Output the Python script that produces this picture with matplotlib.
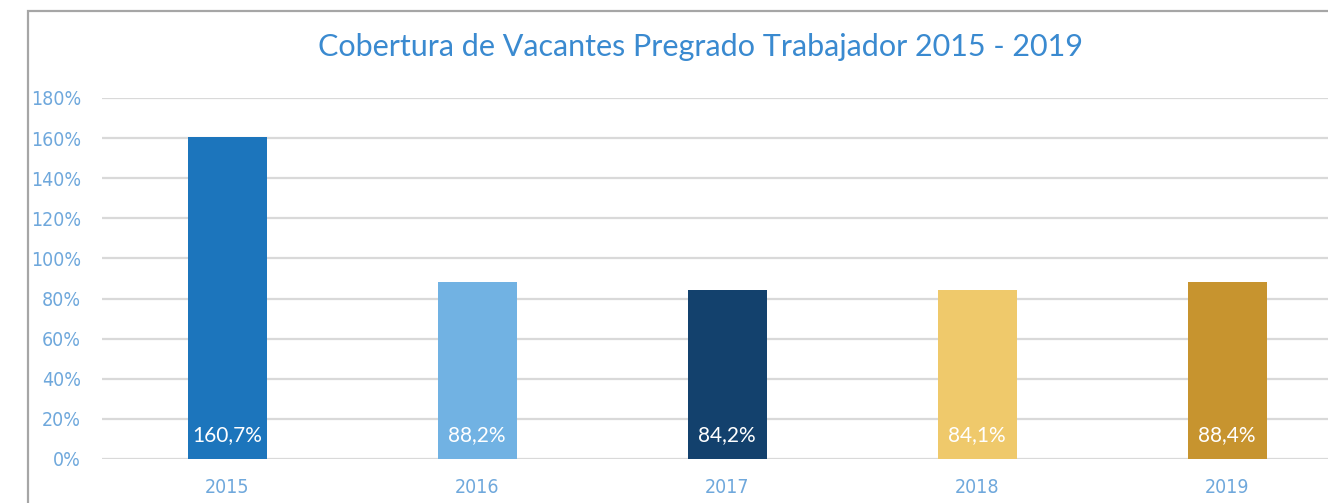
import matplotlib.pyplot as plt
from matplotlib.patches import Rectangle
from matplotlib import font_manager
from matplotlib.font_manager import FontProperties

years = ["2015", "2016", "2017", "2018", "2019"]
coverage = [1.607, 0.882, 0.842, 0.841, 0.884]
bar_labels = ["160,7%", "88,2%", "84,2%", "84,1%", "88,4%"]
bar_colors = ["#1c75bc", "#71b2e3", "#13416d", "#efc96b", "#c7942f"]
y_ticks = [0, 0.2, 0.4, 0.6, 0.8, 1.0, 1.2, 1.4, 1.6, 1.8]
y_tick_labels = ["0%", "20%", "40%", "60%", "80%", "100%", "120%", "140%", "160%", "180%"]


def find_font(keys):
    for key in keys:
        for f in font_manager.fontManager.ttflist:
            fn = f.fname.replace("-", "").replace("_", "").lower()
            if key in fn:
                return f.fname
    return None


# a narrow face for the axis labels, like the original's condensed font
narrow_file = find_font(["liberationsansnarrowregular", "dejavusanscondensed.ttf"])
if narrow_file and "narrow" in narrow_file.lower():
    tick_fp = FontProperties(fname=narrow_file, size=16)
elif narrow_file:
    tick_fp = FontProperties(fname=narrow_file, size=14)
else:
    tick_fp = FontProperties(family="Roboto", size=14)

W, H = 1328, 503
fig = plt.figure(figsize=(W / 100, H / 100), dpi=100)
fig.patch.set_facecolor("white")

# outer chart border (clipped at right and bottom)
fig.add_artist(Rectangle((27.5 / W, -0.2), 1.2, 1 - 10.5 / H + 0.2,
                         transform=fig.transFigure, fill=False,
                         edgecolor="#a6a6a6", linewidth=1.6))

ax = fig.add_axes([102 / W, 1 - 459 / H, 1250 / W, (459 - 98) / H])
ax.set_xlim(-0.5, 4.5)
ax.set_ylim(0, 1.8)

x = range(len(years))
ax.bar(x, coverage, width=0.316, color=bar_colors, zorder=3)

for i, lbl in enumerate(bar_labels):
    ax.annotate(lbl, (i, 0), xytext=(0, 17.5), textcoords="offset points",
                ha="center", va="center", color="white", fontsize=15,
                family="Lato", zorder=4)

ax.set_yticks(y_ticks)
ax.set_yticklabels(y_tick_labels)
ax.set_xticks(list(x))
ax.set_xticklabels(years)
ax.tick_params(axis="both", length=0, colors="#6fa8dc")
ax.tick_params(axis="y", pad=15)
ax.tick_params(axis="x", pad=14)
for t in ax.get_xticklabels() + ax.get_yticklabels():
    t.set_fontproperties(tick_fp)

ax.grid(axis="y", color="#d9d9d9", linewidth=1.6, zorder=0)
ax.set_axisbelow(True)
for s in ax.spines.values():
    s.set_visible(False)

fig.text(701 / W, 1 - 47 / H, "Cobertura de Vacantes Pregrado Trabajador 2015 - 2019",
         ha="center", va="center", fontsize=22, color="#3a8ad0", family="Lato")

fig.savefig("out.png", dpi=100)
